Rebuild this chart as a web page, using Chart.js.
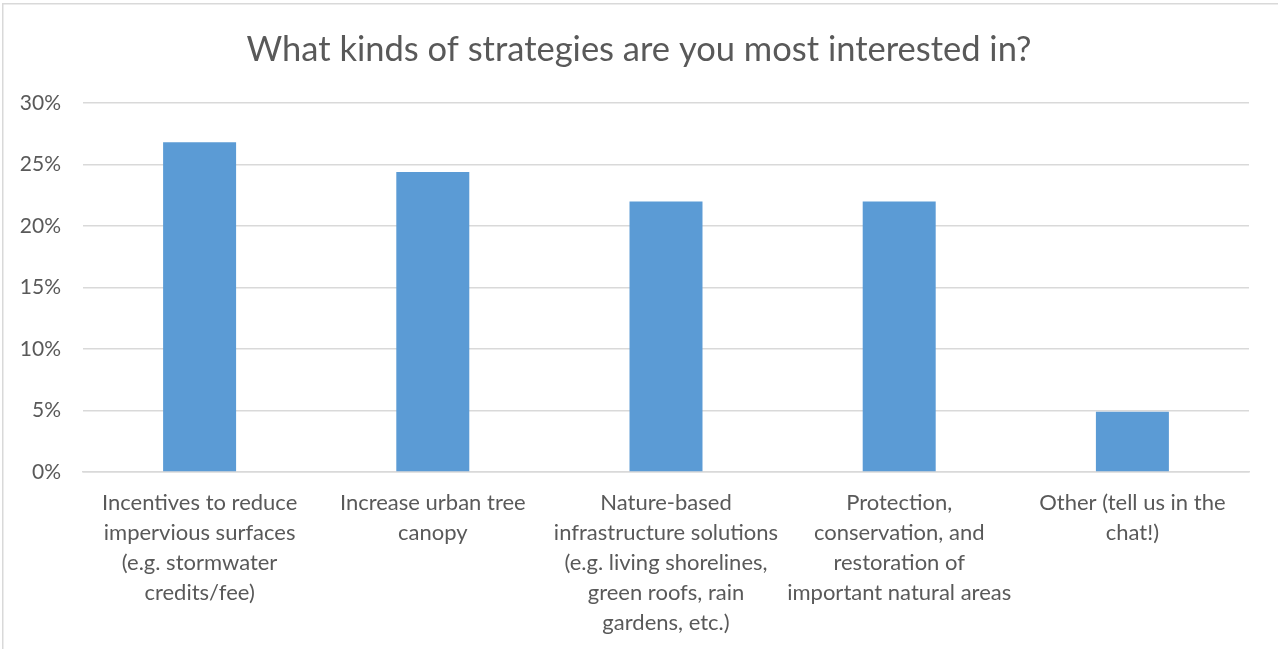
<!DOCTYPE html>
<html>
<head>
<meta charset="utf-8">
<script src="https://cdn.jsdelivr.net/npm/chart.js@4"></script>
<style>
  html, body { margin: 0; padding: 0; background: #ffffff; }
  #wrap { position: relative; width: 1278px; height: 649px; }
</style>
</head>
<body>
<div id="wrap"><canvas id="c" width="1278" height="649"></canvas></div>
<script>
// Survey responses: share of participants interested in each strategy
const categories = [
  ["Incentives to reduce", "impervious surfaces", "(e.g. stormwater", "credits/fee)"],
  ["Increase urban tree", "canopy"],
  ["Nature-based", "infrastructure solutions", "(e.g. living shorelines,", "green roofs, rain", "gardens, etc.)"],
  ["Protection,", "conservation, and", "restoration of", "important natural areas"],
  ["Other (tell us in the", "chat!)"]
];
const shares = [0.268, 0.244, 0.220, 0.220, 0.049];
const yTicks = [0, 0.05, 0.10, 0.15, 0.20, 0.25, 0.30];
const titleText = "What kinds of strategies are you most interested in?";

const FONT = "Lato, 'Open Sans', sans-serif";
const TEXT = "#595959";
const GRID = "#d9d9d9";

// Thin frame along the top and left edges of the chart
const framePlugin = {
  id: "frame",
  afterDraw(chart) {
    const ctx = chart.ctx;
    ctx.save();
    ctx.strokeStyle = GRID;
    ctx.lineWidth = 1.5;
    ctx.beginPath();
    ctx.moveTo(2.75, chart.height);
    ctx.lineTo(2.75, 3.75);
    ctx.lineTo(chart.width, 3.75);
    ctx.stroke();
    ctx.restore();
  }
};

new Chart(document.getElementById("c"), {
  type: "bar",
  data: {
    labels: categories,
    datasets: [{
      data: shares,
      backgroundColor: "#5b9bd5",
      borderWidth: 0,
      categoryPercentage: 1.0,
      barPercentage: 0.313
    }]
  },
  options: {
    responsive: false,
    animation: false,
    layout: { padding: 0 },
    plugins: {
      legend: { display: false },
      tooltip: { enabled: false },
      title: {
        display: true,
        text: titleText,
        color: TEXT,
        font: { family: FONT, size: 34.5, weight: "normal", lineHeight: 1.2 },
        padding: { top: 29, bottom: 32.6 }
      }
    },
    scales: {
      x: {
        grid: { display: false, drawTicks: false },
        border: { display: true, color: GRID, width: 1.5 },
        ticks: {
          color: TEXT,
          font: { family: FONT, size: 22, lineHeight: 1.364 },
          maxRotation: 0,
          autoSkip: false,
          padding: 16
        },
        afterFit(scale) { scale.height = 177; }
      },
      y: {
        min: 0,
        max: 0.30,
        afterBuildTicks(scale) { scale.ticks = yTicks.map(v => ({ value: v })); },
        grid: { color: GRID, lineWidth: 1.5, drawTicks: false },
        border: { display: false },
        ticks: {
          color: TEXT,
          font: { family: FONT, size: 21 },
          padding: 22,
          callback: v => Math.round(v * 100) + "%"
        },
        afterFit(scale) { scale.width = 83; }
      },
      // empty right-hand margin beside the plot area
      yRight: {
        position: "right",
        min: 0,
        max: 0.30,
        grid: { display: false, drawTicks: false },
        border: { display: false },
        ticks: { display: false },
        afterFit(scale) { scale.width = 29; }
      }
    }
  },
  plugins: [framePlugin]
});
</script>
</body>
</html>
